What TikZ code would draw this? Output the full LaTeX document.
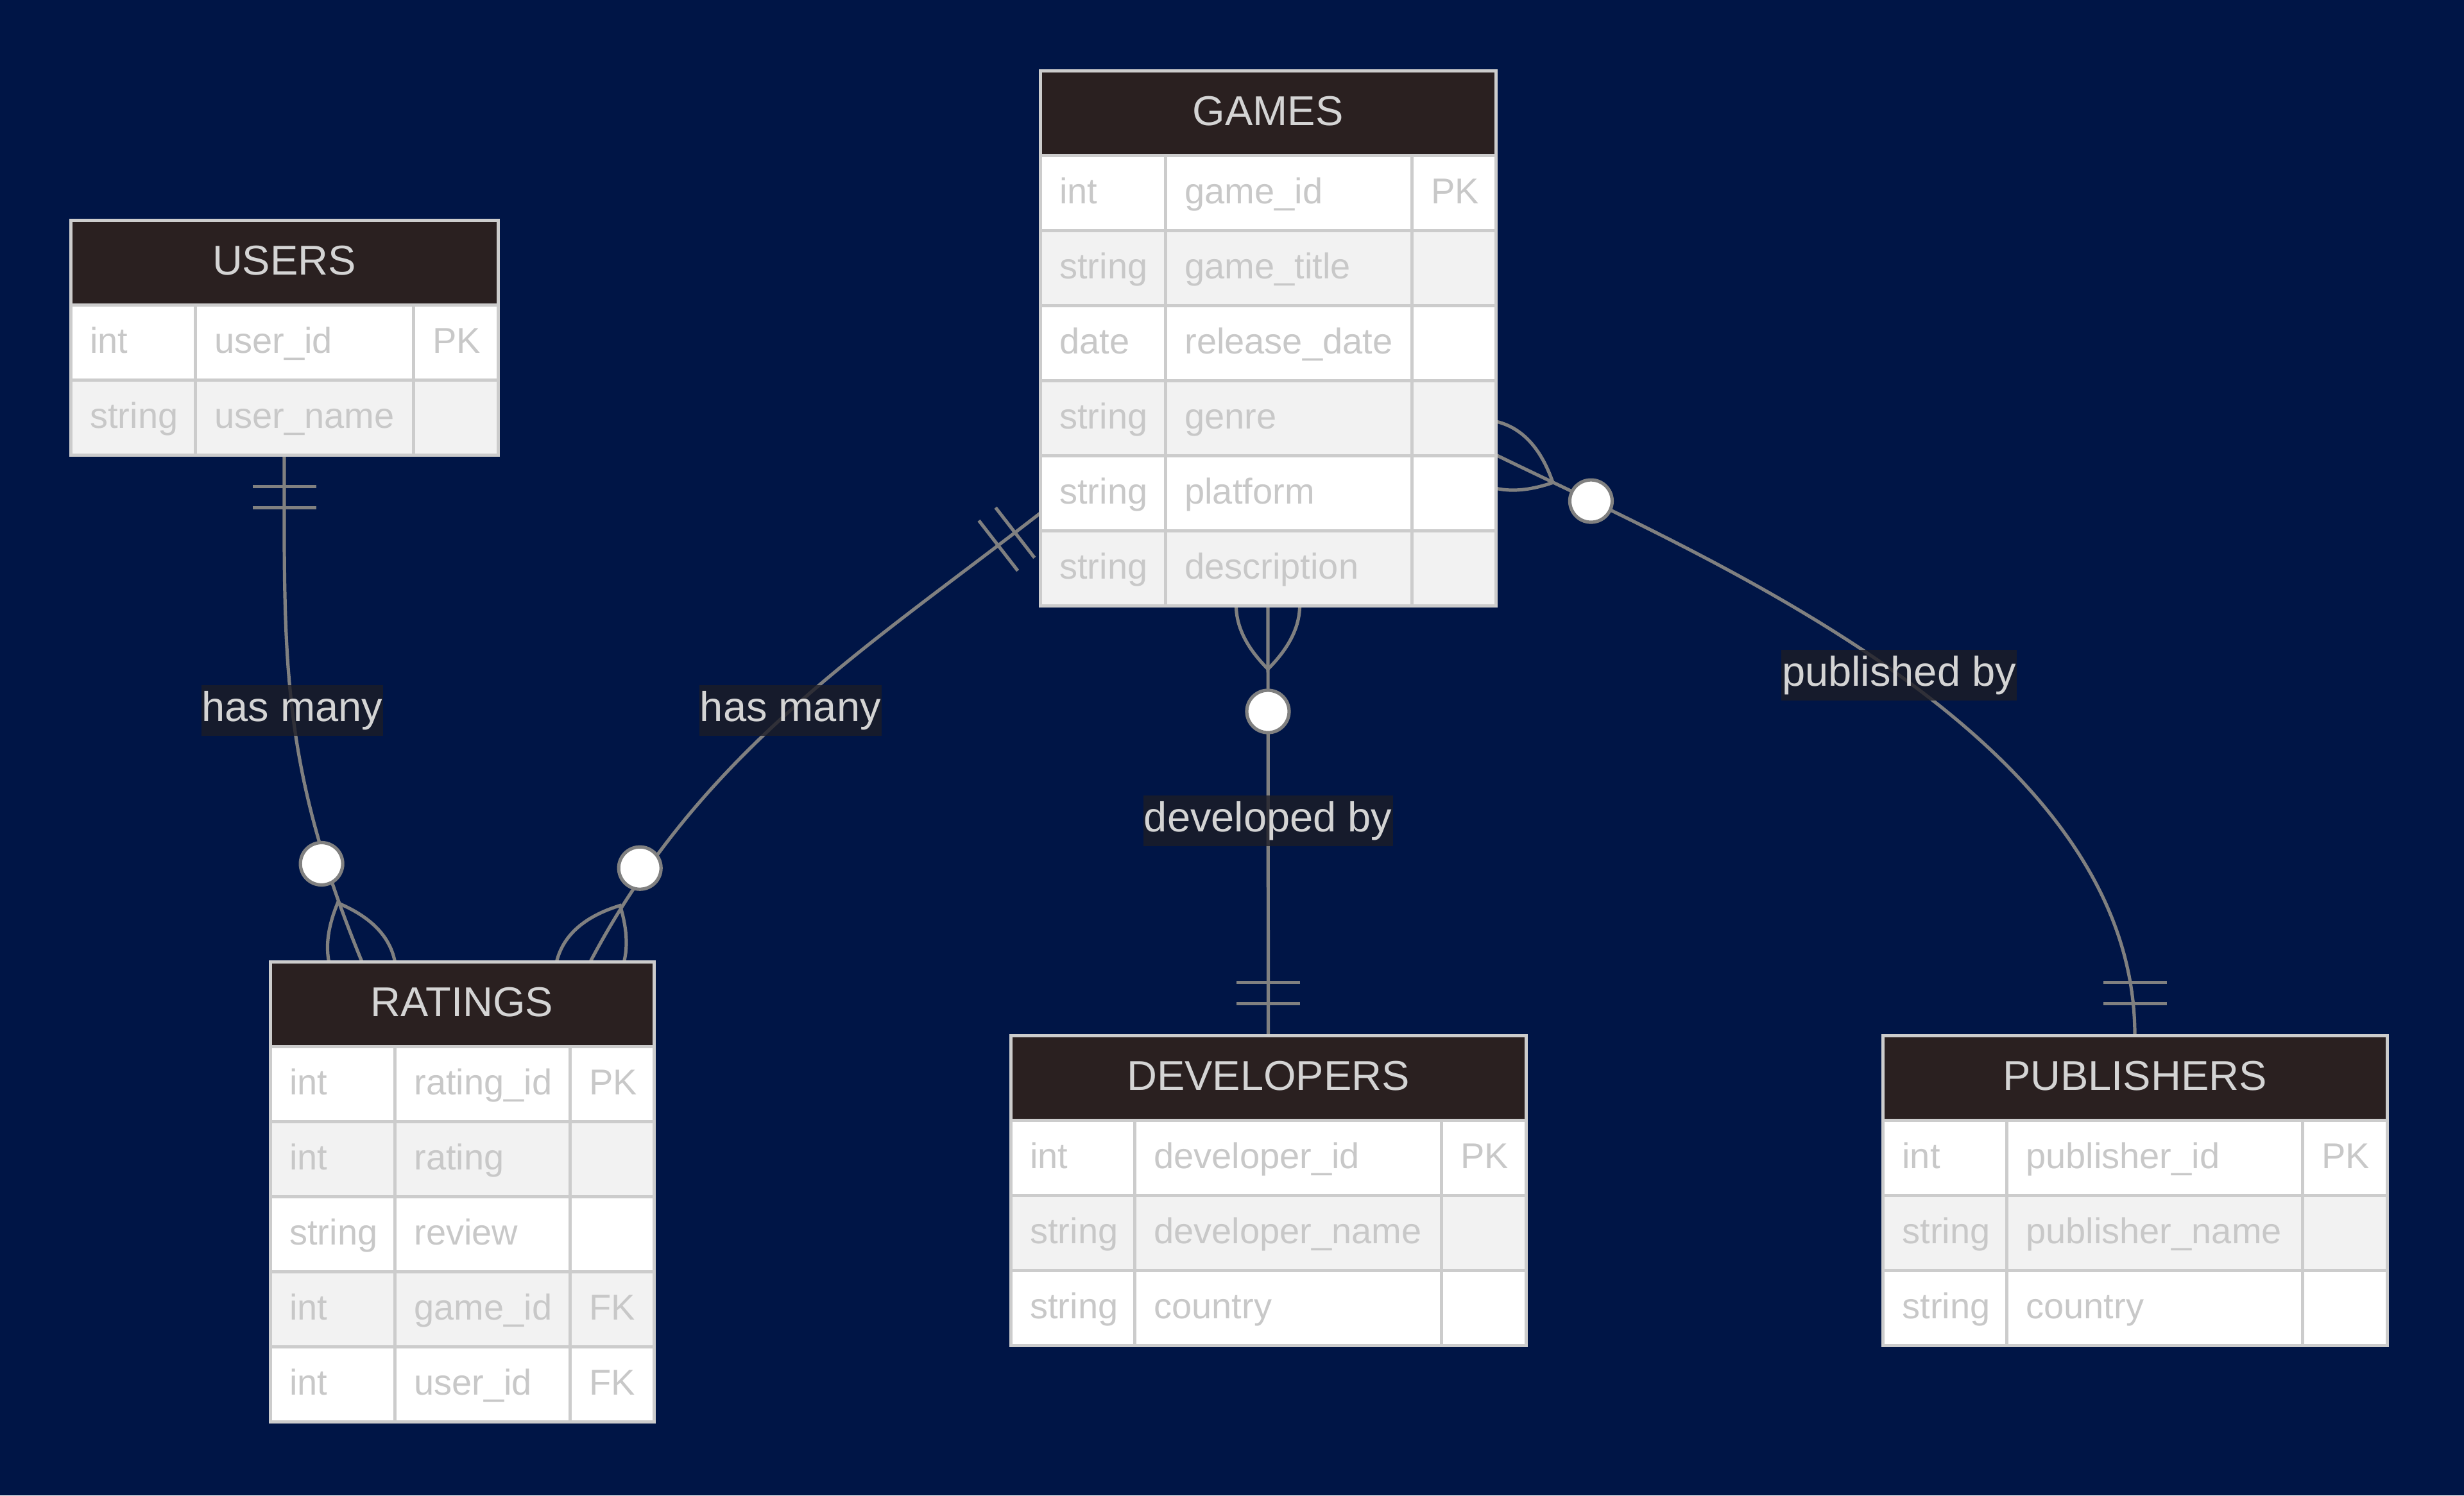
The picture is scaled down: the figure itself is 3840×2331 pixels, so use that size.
\documentclass[tikz,border=0pt]{standalone}
\usepackage{fontspec}
\setmainfont{Liberation Sans}
\usetikzlibrary{calc,fit}

\definecolor{bgnavy}{RGB}{0,21,70}
\definecolor{headbrown}{RGB}{42,32,32}
\definecolor{rowgray}{RGB}{242,242,242}
\definecolor{cellline}{RGB}{204,204,204}
\definecolor{attrtext}{RGB}{200,200,200}
\definecolor{headtext}{RGB}{212,212,212}
\definecolor{relgray}{RGB}{128,128,128}
\definecolor{lblbg}{RGB}{28,29,38}

\pgfdeclarelayer{bgl}
\pgfdeclarelayer{links}
\pgfsetlayers{bgl,links,main}

\tikzset{
  rel/.style={draw=relgray,line width=2.6pt},
  cell/.style={draw=cellline,line width=2.5pt},
  title/.style={text=headtext,inner sep=0pt,anchor=base,font=\fontsize{32.5}{36}\selectfont},
  attr/.style={text=attrtext,inner sep=0pt,anchor=base west,font=\fontsize{28}{32}\selectfont},
  lbl/.style={fill=lblbg,fill opacity=0.8,text opacity=1,text=headtext,inner sep=0.5pt,
    text height=28pt,text depth=10.5pt,font=\fontsize{32.5}{36}\selectfont},
}

% entity table: name, left, top, 1st rule, 2nd rule, right, title, rows
\newcommand{\entity}[8]{%
  \fill[headbrown] (#2,#3) rectangle (#6,#3+132);
  \node[title] at ({(#2+#6)/2},#3+85) {#7};
  \foreach \ty/\nm/\ky [count=\i] in {#8}{
    \pgfmathsetmacro\rt{#3+132+(\i-1)*117}
    \ifodd\i\relax\def\rowfill{white}\else\def\rowfill{rowgray}\fi
    \fill[\rowfill] (#2,\rt) rectangle (#6,\rt+117);
    \draw[cell] (#2,\rt) -- (#6,\rt);
    \node[attr] at (#2+30,\rt+75) {\ty};
    \node[attr] at (#4+30,\rt+75) {\nm};
    \node[attr] at (#5+30,\rt+75) {\ky};
    \pgfmathparse{\rt+117}\xdef\entbot{\pgfmathresult}
  }
  \draw[cell] (#4,#3+132) -- (#4,\entbot) (#5,#3+132) -- (#5,\entbot);
  \node[fit={(#2,#3) (#6,\entbot)},inner sep=0pt,outer sep=0pt,cell] (#1) {};
}

% ring and crow's foot, pointing away from the box edge
\newcommand{\zeromany}[2]{%
  \begin{scope}[shift={#1},rotate=#2,x=2.75pt,y=2.75pt]
    \draw[rel] (-18,0) .. controls (-6,-12) and (6,-12) .. (18,0)
      .. controls (6,12) and (-6,12) .. (-18,0);
    \draw[rel,fill=white] (30,0) circle (6);
  \end{scope}}
% two bars
\newcommand{\onlyone}[2]{%
  \begin{scope}[shift={#1},rotate=#2,x=2.75pt,y=2.75pt]
    \draw[rel] (9,-9) -- (9,9) (15,-9) -- (15,9);
  \end{scope}}

\begin{document}
\begin{tikzpicture}[x=0.5pt,y=-0.5pt]
\useasboundingbox (0,0) rectangle (3840,2331);
\begin{pgfonlayer}{bgl}
\fill[bgnavy] (0,0) rectangle (3840,2331);
\end{pgfonlayer}

\entity{users}{110}{343}{304}{644}{776}{USERS}{int/user\_id/PK, string/user\_name/{}}
\entity{games}{1621}{110}{1816}{2200}{2331}{GAMES}{int/game\_id/PK, string/game\_title/{},
  date/release\_date/{}, string/genre/{}, string/platform/{}, string/description/{}}
\entity{ratings}{421}{1499}{615}{888}{1019}{RATINGS}{int/rating\_id/PK, int/rating/{},
  string/review/{}, int/game\_id/FK, int/user\_id/FK}
\entity{developers}{1575}{1614}{1768}{2246}{2378}{DEVELOPERS}{int/developer\_id/PK,
  string/developer\_name/{}, string/country/{}}
\entity{publishers}{2934}{1614}{3127}{3588}{3720}{PUBLISHERS}{int/publisher\_id/PK,
  string/publisher\_name/{}, string/country/{}}

\begin{pgfonlayer}{links}
\coordinate (r1) at ($(ratings.north west)+(143,0)$);
\coordinate (r2) at ($(ratings.north west)+(499,0)$);
\coordinate (gl) at ($(games.north west)+(0,690)$);
\coordinate (gr) at ($(games.north east)+(0,599)$);

\draw[rel] (users.south) .. controls +(0,320) and +(-128,-311) .. (r1) node[lbl,midway] {has many};
\draw[rel] (gl) .. controls +(-276,214) and +(173,-327) .. (r2) node[lbl,midway] {has many};
\draw[rel] (games.south) -- (developers.north) node[lbl,midway] {developed by};
\draw[rel] (gr) .. controls +(348,169) and +(0,-460) .. (publishers.north) node[lbl,midway] {published by};

\onlyone{(users.south)}{-90}
\zeromany{(r1)}{112.4}
\onlyone{(gl)}{217.8}
\zeromany{(r2)}{62.1}
\zeromany{(games.south)}{-90}
\onlyone{(developers.north)}{90}
\zeromany{(gr)}{-25.9}
\onlyone{(publishers.north)}{90}
\end{pgfonlayer}
\end{tikzpicture}
\end{document}
